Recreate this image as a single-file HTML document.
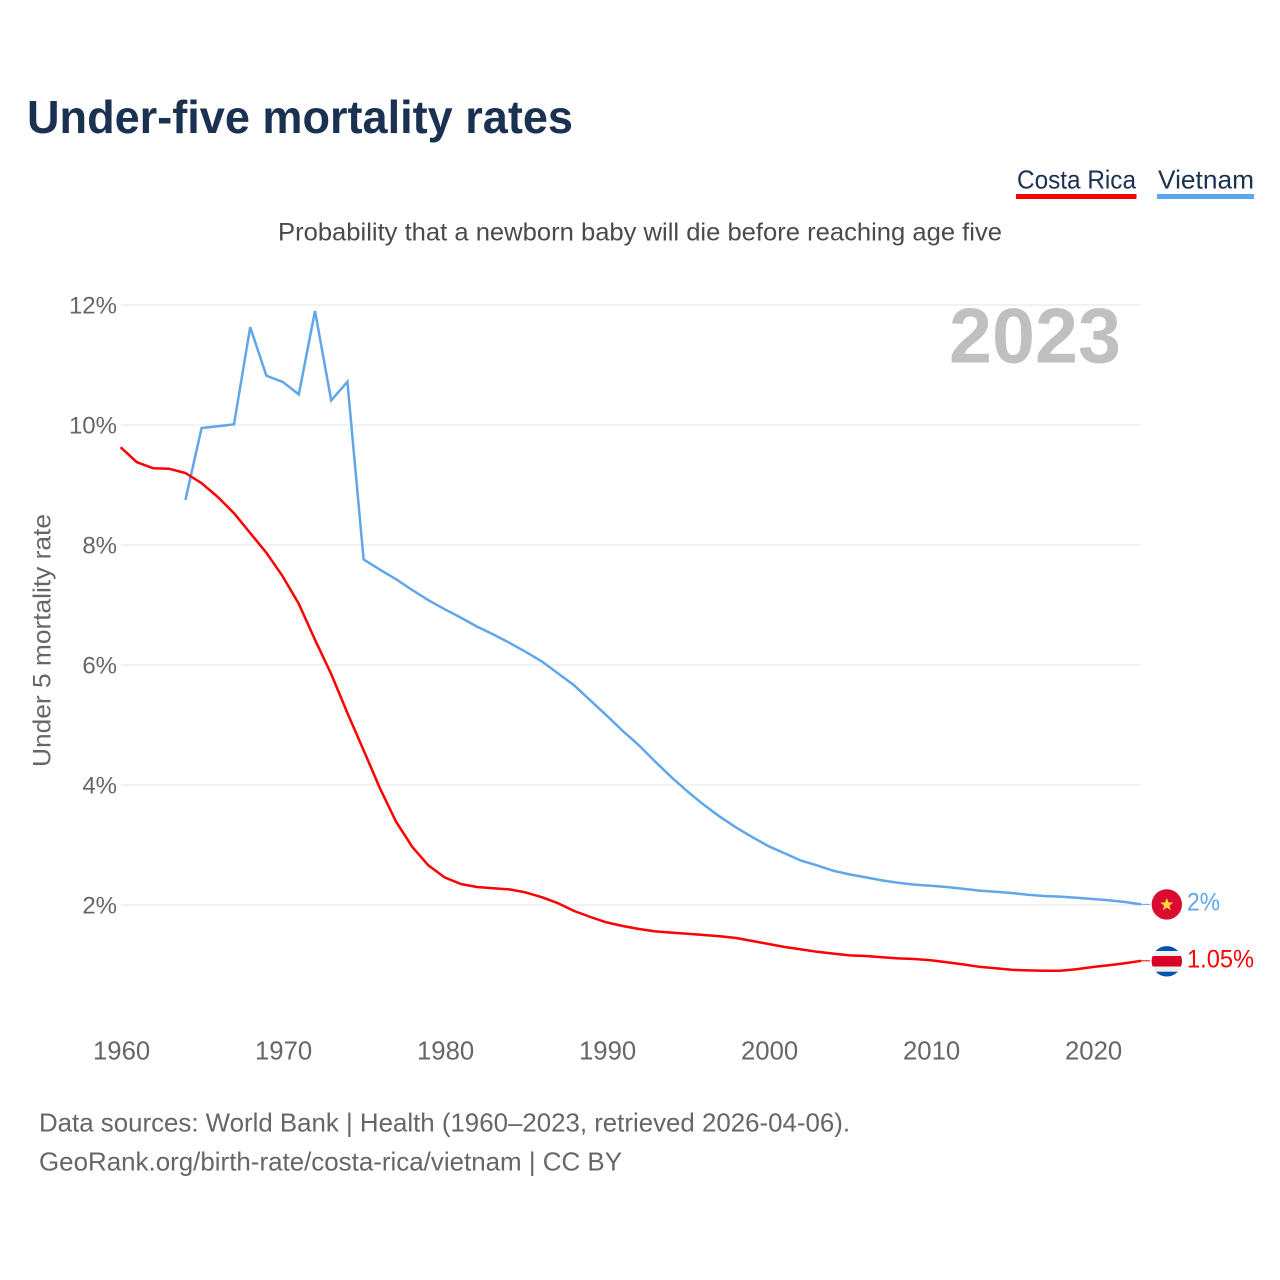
<!DOCTYPE html>
<html lang="en">
<head>
<meta charset="utf-8">
<title>Under-five mortality rates</title>
<style>
html,body{margin:0;padding:0;background:#fff;width:1280px;height:1280px;overflow:hidden}
svg{display:block}
text{font-family:"Liberation Sans",sans-serif}
</style>
</head>
<body>
<svg id="chart" width="1280" height="1280" viewBox="0 0 1280 1280" xmlns="http://www.w3.org/2000/svg">
  <defs>
    <clipPath id="flag-cr-clip"><circle cx="1166.8" cy="961.3" r="15.2"/></clipPath>
  </defs>
  <text x="27" y="133" font-size="46" font-weight="700" fill="#1a3152" textLength="546" lengthAdjust="spacingAndGlyphs">Under-five mortality rates</text>

  <g>
    <g>
      <text x="1017" y="188.5" font-size="26" fill="#1a3152" textLength="119" lengthAdjust="spacingAndGlyphs">Costa Rica</text>
      <rect x="1016" y="194" width="120.5" height="5" fill="#ff0000"/>
    </g>
    <g>
      <text x="1158" y="188.5" font-size="26" fill="#1a3152" textLength="96" lengthAdjust="spacingAndGlyphs">Vietnam</text>
      <rect x="1157" y="194" width="97" height="5" fill="#5fa6ea"/>
    </g>
  </g>

  <text x="278" y="240.5" font-size="25" fill="#4a4a4a" textLength="724" lengthAdjust="spacingAndGlyphs">Probability that a newborn baby will die before reaching age five</text>

  <g id="grid"></g>
  <g id="y-ticks"></g>
  <g id="x-ticks"></g>

  <text transform="translate(50.5 767) rotate(-90)" font-size="25" fill="#666" textLength="253" lengthAdjust="spacingAndGlyphs">Under 5 mortality rate</text>

  <text x="949" y="362.5" font-size="78" font-weight="700" fill="#c0c0c0" textLength="172" lengthAdjust="spacingAndGlyphs">2023</text>

  <path id="line-vietnam" fill="none" stroke="#5fa6ea" stroke-width="2.5" stroke-linejoin="miter"/>
  <path id="line-costa-rica" fill="none" stroke="#ff0000" stroke-width="2.5" stroke-linejoin="round"/>
  <line id="connector-vietnam" x2="1150" stroke="#5fa6ea" stroke-width="1"/>
  <line id="connector-costa-rica" x2="1150" stroke="#ff0000" stroke-width="1"/>

  <g>
    <circle cx="1166.8" cy="904.4" r="15.2" fill="#da0b2f"/>
    <polygon points="1166.8,897.7 1168.5,902.4 1173.3,902.6 1169.5,905.6 1170.8,910.2 1166.8,907.6 1162.8,910.2 1164.1,905.6 1160.3,902.6 1165.1,902.4" fill="#ffd83d"/>
  </g>
  <g clip-path="url(#flag-cr-clip)">
    <rect x="1151" y="946" width="32" height="31" fill="#f0f0f0"/>
    <rect x="1151" y="946" width="32" height="5" fill="#0052b4"/>
    <rect x="1151" y="971.7" width="32" height="5.3" fill="#0052b4"/>
    <rect x="1151" y="956" width="32" height="10.5" fill="#d80027"/>
  </g>

  <text x="1187" y="910.5" font-size="25" fill="#5fa6ea" textLength="33" lengthAdjust="spacingAndGlyphs">2%</text>
  <text x="1187" y="967.5" font-size="25" fill="#ff0000" textLength="67" lengthAdjust="spacingAndGlyphs">1.05%</text>

  <text x="39" y="1131.5" font-size="26" fill="#666" textLength="811" lengthAdjust="spacingAndGlyphs">Data sources: World Bank | Health (1960–2023, retrieved 2026-04-06).</text>
  <text x="39" y="1170.5" font-size="26" fill="#666" textLength="583" lengthAdjust="spacingAndGlyphs">GeoRank.org/birth-rate/costa-rica/vietnam | CC BY</text>
</svg>

<script>
const startYear = 1960;
const xTickYears = [1960, 1970, 1980, 1990, 2000, 2010, 2020];
const yTickValues = [2, 4, 6, 8, 10, 12];
const costaRicaValues = [
  9.63, 9.38, 9.28, 9.27, 9.20, 9.03, 8.80, 8.53, 8.20, 7.87,
  7.48, 7.02, 6.42, 5.85, 5.20, 4.58, 3.95, 3.39, 2.97, 2.66,
  2.46, 2.35, 2.30, 2.28, 2.26, 2.21, 2.13, 2.03, 1.90, 1.80,
  1.71, 1.65, 1.60, 1.56, 1.54, 1.52, 1.50, 1.48, 1.45, 1.40,
  1.35, 1.30, 1.26, 1.22, 1.19, 1.16, 1.15, 1.13, 1.11, 1.10,
  1.08, 1.045, 1.01, 0.97, 0.945, 0.92, 0.91, 0.905, 0.905, 0.93,
  0.967, 0.995, 1.03, 1.07
];
const vietnamValues = [
  null, null, null, null, 8.75, 9.95, 9.98, 10.01, 11.63, 10.82,
  10.72, 10.51, 11.90, 10.41, 10.72, 7.76, 7.59, 7.43, 7.25, 7.08,
  6.93, 6.79, 6.64, 6.51, 6.37, 6.22, 6.06, 5.86, 5.66, 5.41,
  5.16, 4.90, 4.66, 4.39, 4.13, 3.89, 3.67, 3.47, 3.29, 3.13,
  2.98, 2.86, 2.74, 2.66, 2.57, 2.51, 2.46, 2.41, 2.37, 2.34,
  2.32, 2.30, 2.27, 2.24, 2.22, 2.20, 2.17, 2.15, 2.14, 2.12,
  2.10, 2.08, 2.05, 2.01
];

const svgNS = 'http://www.w3.org/2000/svg';
function xScale(year) { return 120.6 + (year - startYear) * 16.2; }
function yScale(value) { return 1025 - value * 60; }
function linePath(values) {
  let d = '';
  values.forEach(function (v, i) {
    if (v === null) return;
    d += (d ? 'L' : 'M') + xScale(startYear + i).toFixed(2) + ' ' + yScale(v).toFixed(2);
  });
  return d;
}

const gridGroup = document.getElementById('grid');
const yTickGroup = document.getElementById('y-ticks');
const xTickGroup = document.getElementById('x-ticks');

yTickValues.forEach(function (v) {
  const line = document.createElementNS(svgNS, 'line');
  
  
  line.setAttribute('x1', 121);
  line.setAttribute('x2', 1141);
  line.setAttribute('y1', yScale(v));
  line.setAttribute('y2', yScale(v));
  line.setAttribute('stroke', '#e9e9e9');
  line.setAttribute('stroke-width', '1.2');
  gridGroup.appendChild(line);

  const label = document.createElementNS(svgNS, 'text');
  
  
  label.setAttribute('x', 117);
  label.setAttribute('y', yScale(v) + 8.5);
  label.setAttribute('text-anchor', 'end');
  label.setAttribute('font-size', '24');
  label.setAttribute('fill', '#666');
  label.textContent = v + '%';
  yTickGroup.appendChild(label);
});

xTickYears.forEach(function (year) {
  const label = document.createElementNS(svgNS, 'text');
  
  
  label.setAttribute('x', xScale(year) + 1);
  label.setAttribute('y', 1059.5);
  label.setAttribute('text-anchor', 'middle');
  label.setAttribute('font-size', '25.7');
  label.setAttribute('fill', '#666');
  label.textContent = year;
  xTickGroup.appendChild(label);
});

document.getElementById('line-costa-rica').setAttribute('d', linePath(costaRicaValues));
document.getElementById('line-vietnam').setAttribute('d', linePath(vietnamValues));

const lastYear = startYear + vietnamValues.length - 1;
const vnConnector = document.getElementById('connector-vietnam');
vnConnector.setAttribute('x1', xScale(lastYear));
vnConnector.setAttribute('y1', yScale(vietnamValues[vietnamValues.length - 1]));
vnConnector.setAttribute('y2', yScale(vietnamValues[vietnamValues.length - 1]));
const crConnector = document.getElementById('connector-costa-rica');
crConnector.setAttribute('x1', xScale(lastYear));
crConnector.setAttribute('y1', yScale(costaRicaValues[costaRicaValues.length - 1]));
crConnector.setAttribute('y2', yScale(costaRicaValues[costaRicaValues.length - 1]));
</script>
</body>
</html>
